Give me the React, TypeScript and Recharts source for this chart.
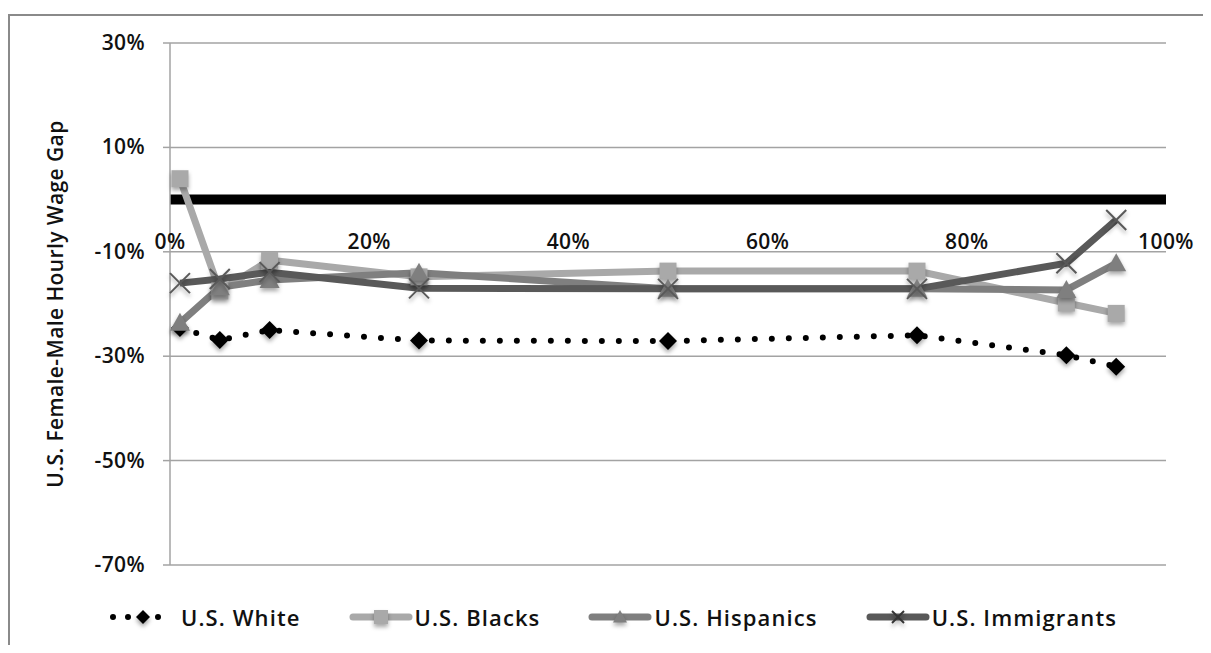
import React from "react"
import {
  LineChart, Line, XAxis, YAxis, CartesianGrid, ReferenceLine,
} from "recharts"

// wage gap percentiles (x) and series values, in %
const percentiles = [1, 5, 10, 25, 50, 75, 90, 95]
const usWhite = [-24.6, -26.9, -25, -27, -27.1, -26, -29.8, -32]
const usBlacks = [4, -17.5, -11.6, -14.8, -13.7, -13.7, -19.8, -21.8]
const usHispanics = [-23.6, -16.8, -15.4, -14, -17.1, -17.1, -17.3, -12.2]
const usImmigrants = [-16, -15.2, -13.9, -17, -17.1, -17.1, -12.2, -3.9]

const xTicks = [0, 20, 40, 60, 80, 100]
const yTicks = [-70, -50, -30, -10, 10, 30]
const yLabel = "U.S. Female-Male Hourly Wage Gap"

const seriesNames = ["U.S. White", "U.S. Blacks", "U.S. Hispanics", "U.S. Immigrants"]

const data = percentiles.map((p, i) => ({
  p,
  white: usWhite[i],
  blacks: usBlacks[i],
  hispanics: usHispanics[i],
  immigrants: usImmigrants[i],
}))

const FONT = "'Open Sans', 'DejaVu Sans', sans-serif"
const Y_MIN = -70
const Y_MAX = 30
const TOP = 35
const PLOT_H = 522
const X_LABEL_AT = -8.1

const shadow = { filter: "drop-shadow(0px 3px 2px rgba(0,0,0,0.35))" }

const C_BLACKS = "#a9a9a9"
const C_HISP = "#7f7f7f"
const C_IMM = "#595959"

const textStyle = { fontFamily: FONT, fontWeight: 600, fontSize: 21, fill: "#111", letterSpacing: 0.4 }

function Diamond({ cx, cy, s }: any) {
  if (cx == null || cy == null) return null
  const r = s ?? 9
  return <path d={`M${cx},${cy - r}L${cx + r},${cy}L${cx},${cy + r}L${cx - r},${cy}Z`} fill="#000" style={shadow} />
}

function Square({ cx, cy, s }: any) {
  if (cx == null || cy == null) return null
  const r = s ?? 8.5
  return <rect x={cx - r} y={cy - r} width={r * 2} height={r * 2} fill={C_BLACKS} style={shadow} />
}

function Triangle({ cx, cy, s }: any) {
  if (cx == null || cy == null) return null
  const r = s ?? 10
  return <path d={`M${cx},${cy - r}L${cx + r},${cy + r * 0.8}L${cx - r},${cy + r * 0.8}Z`} fill={C_HISP} style={shadow} />
}

function Cross({ cx, cy, s, color }: any) {
  if (cx == null || cy == null) return null
  const r = s ?? 10
  const c = color ?? C_IMM
  return (
    <g style={shadow}>
      <line x1={cx - r} y1={cy - r} x2={cx + r} y2={cy + r} stroke={c} strokeWidth={2} />
      <line x1={cx - r} y1={cy + r} x2={cx + r} y2={cy - r} stroke={c} strokeWidth={2} />
    </g>
  )
}

function XTick({ x, payload }: any) {
  const y = TOP + (PLOT_H * (Y_MAX - X_LABEL_AT)) / (Y_MAX - Y_MIN)
  return (
    <text x={x} y={y} dy={7} textAnchor="middle" style={textStyle}>
      {payload.value}%
    </text>
  )
}

function YTick({ x, y, payload }: any) {
  return (
    <text x={x} y={y} dy={7} textAnchor="end" style={textStyle}>
      {payload.value}%
    </text>
  )
}

function LegendIcon({ i }: { i: number }) {
  if (i === 0) {
    return (
      <svg width={60} height={22} style={{ overflow: "visible" }}>
        <line x1={4} y1={11} x2={58} y2={11} stroke="#000" strokeWidth={6} strokeDasharray="0 15" strokeLinecap="round" />
        <Diamond cx={34} cy={11} s={7} />
      </svg>
    )
  }
  const color = [C_BLACKS, C_HISP, C_IMM][i - 1]
  return (
    <svg width={64} height={22} style={{ overflow: "visible" }}>
      <line x1={4} y1={11} x2={60} y2={11} stroke={color} strokeWidth={7} strokeLinecap="round" />
      {i === 1 && <Square cx={32} cy={11} s={7} />}
      {i === 2 && <Triangle cx={32} cy={11} s={7} />}
      {i === 3 && <Cross cx={32} cy={11} s={6} color="#333" />}
    </svg>
  )
}

export default function App() {
  return (
    <div style={{
      position: "relative", width: 1195, height: 631, marginTop: 6, boxSizing: "border-box",
      borderTop: "2px solid #8a8a8a", borderLeft: "2px solid #8a8a8a",
    }}>
      <div style={{ position: "absolute", left: -2, top: -8 }}>
        <LineChart width={1195} height={590} data={data}
                   margin={{ top: TOP, right: 37, left: 0, bottom: 3 }}>
          <CartesianGrid vertical={false} stroke="#a3a3a3" strokeWidth={1.5} />
          <XAxis
            dataKey="p"
            type="number"
            domain={[0, 100]}
            ticks={xTicks}
            interval={0}
            axisLine={false}
            tickLine={false}
            height={30}
            tick={<XTick />}
          />
          <YAxis
            type="number"
            domain={[Y_MIN, Y_MAX]}
            ticks={yTicks}
            interval={0}
            width={162}
            axisLine={{ stroke: "#a3a3a3", strokeWidth: 1.5 }}
            tickLine={{ stroke: "#a3a3a3", strokeWidth: 1.5 }}
            tickSize={7}
            tickMargin={18}
            tick={<YTick />}
            label={{
              value: yLabel, angle: -90, position: "insideLeft", offset: 48,
              style: { ...textStyle, textAnchor: "middle" },
            }}
          />
          <ReferenceLine y={0} stroke="#000" strokeWidth={10} ifOverflow="visible" />
          <Line
            dataKey="white"
            name={seriesNames[0]}
            stroke="#000"
            strokeWidth={6}
            strokeDasharray="0 17"
            strokeLinecap="round"
            dot={<Diamond />}
            isAnimationActive={false}
          />
          <Line
            dataKey="blacks"
            name={seriesNames[1]}
            stroke={C_BLACKS}
            strokeWidth={7}
            dot={<Square />}
            isAnimationActive={false}
          />
          <Line
            dataKey="hispanics"
            name={seriesNames[2]}
            stroke={C_HISP}
            strokeWidth={7}
            dot={<Triangle />}
            isAnimationActive={false}
          />
          <Line
            dataKey="immigrants"
            name={seriesNames[3]}
            stroke={C_IMM}
            strokeWidth={7}
            dot={<Cross />}
            isAnimationActive={false}
          />
        </LineChart>
      </div>
      <div style={{
        position: "absolute", left: -2, top: 586, width: 1210,
        display: "flex", justifyContent: "center", alignItems: "center", gap: 48,
        fontFamily: FONT, fontWeight: 600, fontSize: 22, letterSpacing: 1.1, color: "#111",
      }}>
        {seriesNames.map((n, i) => (
          <div key={n} style={{ display: "flex", alignItems: "center", gap: i === 0 ? 12 : 2 }}>
            <LegendIcon i={i} />
            <span>{n}</span>
          </div>
        ))}
      </div>
    </div>
  )
}
